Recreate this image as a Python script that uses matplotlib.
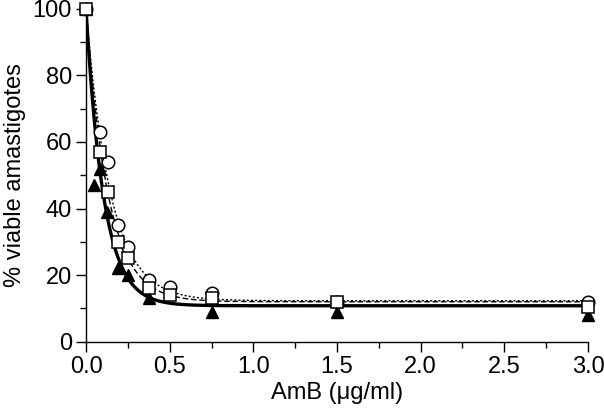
import matplotlib
matplotlib.use("Agg")
import matplotlib.pyplot as plt
import numpy as np

# concentrations (ug/ml) and % viable amastigotes
x_tri = [0.0, 0.05, 0.085, 0.125, 0.19, 0.25, 0.375, 0.75, 1.5, 3.0]
y_tri = [100, 47, 52, 39, 22, 20, 13, 9, 9, 8]

x_sq = [0.0, 0.085, 0.13, 0.19, 0.25, 0.375, 0.5, 0.75, 1.5, 3.0]
y_sq = [100, 57, 45, 30, 25, 16, 14, 13, 12, 10.5]

x_circ = [0.0, 0.085, 0.13, 0.19, 0.25, 0.375, 0.5, 0.75, 1.5, 3.0]
y_circ = [100, 63, 54, 35, 28.5, 18.5, 16.5, 14.5, 12, 11.8]

# one-phase decay fits (plateau, rate k) as drawn in the figure
fit_tri = (10.8, 9.5)
fit_sq = (12.0, 7.6)
fit_circ = (12.3, 6.8)

plt.rcParams['font.family'] = ['Liberation Sans', 'DejaVu Sans']


def decay(x, plateau, k):
    return plateau + (100 - plateau) * np.exp(-k * x)


def make_plot():
    fig = plt.figure(figsize=(6.04, 4.15), dpi=100)
    ax = fig.add_axes([0.1424, 0.1766, 0.8311, 0.8024])

    xs = np.linspace(0, 3, 600)
    ax.plot(xs, decay(xs, *fit_circ), color='black', lw=1.0, ls=(0, (1.5, 1.5)))
    ax.plot(xs, decay(xs, *fit_sq), color='black', lw=1.0, ls=(0, (4, 2)))
    ax.plot(xs, decay(xs, *fit_tri), color='black', lw=2.4)

    ax.plot(x_tri, y_tri, ls='none', marker='^', ms=9, color='black', clip_on=False, zorder=3)
    ax.plot(x_circ, y_circ, ls='none', marker='o', ms=9, mfc='white', mec='black', mew=1.1,
            clip_on=False, zorder=4)
    ax.plot(x_sq, y_sq, ls='none', marker='s', ms=8.5, mfc='white', mec='black', mew=1.1,
            clip_on=False, zorder=5)

    ax.set_xlim(0, 3)
    ax.set_ylim(0, 100)
    ax.set_xticks(np.arange(0, 3.01, 0.5))
    ax.set_xticks(np.arange(0, 3.01, 0.25), minor=True)
    ax.set_yticks(np.arange(0, 101, 20))
    ax.set_yticks(np.arange(0, 101, 10), minor=True)
    ax.xaxis.set_major_formatter(matplotlib.ticker.FormatStrFormatter('%.1f'))

    for s in ['top', 'right']:
        ax.spines[s].set_visible(False)
    for s in ['left', 'bottom']:
        ax.spines[s].set_linewidth(1.0)
    ax.tick_params(which='major', direction='out', length=7, width=1.0, labelsize=17, pad=3)
    ax.tick_params(which='minor', direction='out', length=4, width=1.0)

    ax.set_xlabel('AmB (\u03bcg/ml)', fontsize=17, labelpad=3)
    ax.set_ylabel('% viable amastigotes', fontsize=17, labelpad=5)

    fig.savefig('out.png', dpi=100)


if __name__ == "__main__":
    make_plot()
